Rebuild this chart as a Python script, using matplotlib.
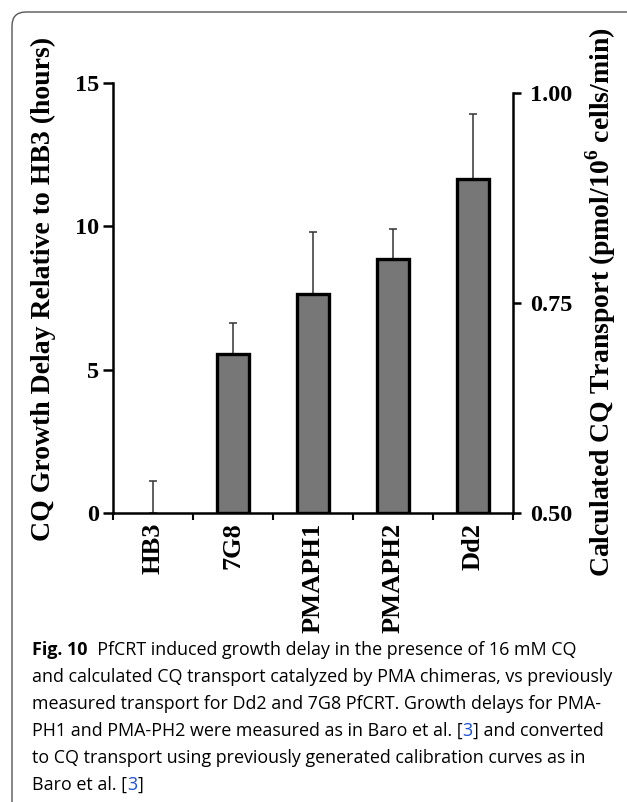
import matplotlib
matplotlib.use("Agg")
import matplotlib.pyplot as plt
import matplotlib.patches as mpatches
from matplotlib.transforms import IdentityTransform

# data
strains = ["HB3", "7G8", "PMAPH1", "PMAPH2", "Dd2"]
delay_hours = [0.0, 5.55, 7.64, 8.86, 11.65]
delay_err = [1.12, 1.08, 2.16, 1.05, 2.27]
left_ticks = [0, 5, 10, 15]
right_ticks = [0.50, 0.75, 1.00]

caption_lines = [
    [("Fig. 10", "k", "bold"), ("  PfCRT induced growth delay in the presence of 16 mM CQ", "k", "normal")],
    [("and calculated CQ transport catalyzed by PMA chimeras, vs previously", "k", "normal")],
    [("measured transport for Dd2 and 7G8 PfCRT. Growth delays for PMA-", "k", "normal")],
    [("PH1 and PMA-PH2 were measured as in Baro et al. [", "k", "normal"), ("3", "#1a4fd6", "normal"),
     ("] and converted", "k", "normal")],
    [("to CQ transport using previously generated calibration curves as in", "k", "normal")],
    [("Baro et al. [", "k", "normal"), ("3", "#1a4fd6", "normal"), ("]", "k", "normal")],
]

W, H = 627, 802
plt.rcParams["mathtext.fontset"] = "custom"
plt.rcParams["mathtext.bf"] = "Liberation Serif:bold"
plt.rcParams["mathtext.rm"] = "Liberation Serif:bold"

fig = plt.figure(figsize=(W / 100, H / 100), dpi=100)

# axes placed in pixel terms of the reference
x0, x1, ytop, ybot = 113, 513, 83, 513
ax = fig.add_axes([x0 / W, 1 - ybot / H, (x1 - x0) / W, (ybot - ytop) / H])

serif = "Liberation Serif"
xs = list(range(len(strains)))
edge_w = [0 if v == 0 else 2.4 for v in delay_hours]
ax.bar(xs, delay_hours, width=0.41, color="#777777", edgecolor="black", linewidth=edge_w, zorder=3)
ax.errorbar(xs, delay_hours, yerr=[[0] * len(xs), delay_err], fmt="none",
            ecolor="#333333", elinewidth=1.1, capsize=3, capthick=1.1, zorder=2)

ax.set_xlim(-0.5, len(strains) - 0.5)
ax.set_ylim(0, 15)
ax.set_yticks(left_ticks)
ax.set_yticklabels([str(t) for t in left_ticks], fontfamily=serif, fontweight="bold", fontsize=17.5)
ax.tick_params(axis="y", direction="out", length=7, width=1.8, pad=3)

ax.set_xticks(xs)
ax.set_xticklabels(strains, rotation=90, fontfamily=serif, fontweight="bold", fontsize=19)
ax.set_xticks([i - 0.5 for i in range(len(strains) + 1)], minor=True)
ax.tick_params(axis="x", which="major", length=0, pad=7)
ax.tick_params(axis="x", which="minor", direction="out", length=5, width=1.5)

for s in ["top", "right"]:
    ax.spines[s].set_visible(False)
ax.spines["left"].set_linewidth(1.8)
ax.spines["bottom"].set_linewidth(1.8)

ax.set_ylabel("CQ Growth Delay Relative to HB3 (hours)", fontfamily=serif,
              fontweight="bold", fontsize=20)
ax.yaxis.set_label_coords(-0.143, 0.52)

# right hand transport scale
ax2 = ax.twinx()
ax2.set_ylim(0.5, 1.0 + 0.5 * (93 - 83) / (513 - 93))
ax2.set_yticks(right_ticks)
ax2.set_yticklabels(["%.2f" % t for t in right_ticks], fontfamily=serif, fontweight="bold", fontsize=17.5)
ax2.tick_params(axis="y", direction="out", length=6, width=1.8, pad=6)
for s in ["top", "left", "bottom"]:
    ax2.spines[s].set_visible(False)
ax2.spines["right"].set_linewidth(1.8)
ax2.spines["right"].set_bounds(0.5, 1.0)
ax2.set_ylabel(r"Calculated CQ Transport (pmol/10$^{\mathbf{6}}$ cells/min)", fontfamily=serif,
               fontweight="bold", fontsize=20)
ax2.yaxis.set_label_coords(1.175, 0.49)

# rounded frame around the figure panel
frame = mpatches.FancyBboxPatch((12, -20), 660, H - 12 + 20, boxstyle="round,pad=0,rounding_size=14",
                                transform=IdentityTransform(), fill=False, edgecolor="#555555",
                                linewidth=1.0)
fig.patches.append(frame)

# caption with coloured reference numbers
renderer = fig.canvas.get_renderer()
cap_x, cap_y0, cap_dy = 32, 655, 27.0
for i, parts in enumerate(caption_lines):
    xpos = cap_x
    ypos = H - (cap_y0 + i * cap_dy)
    for txt, col, wt in parts:
        t = fig.text(xpos / W, ypos / H, txt, color=col, fontweight=wt, fontfamily="Open Sans",
                     fontsize=12.85, va="baseline", ha="left")
        xpos += t.get_window_extent(renderer).width

fig.savefig("out.png", dpi=100)
